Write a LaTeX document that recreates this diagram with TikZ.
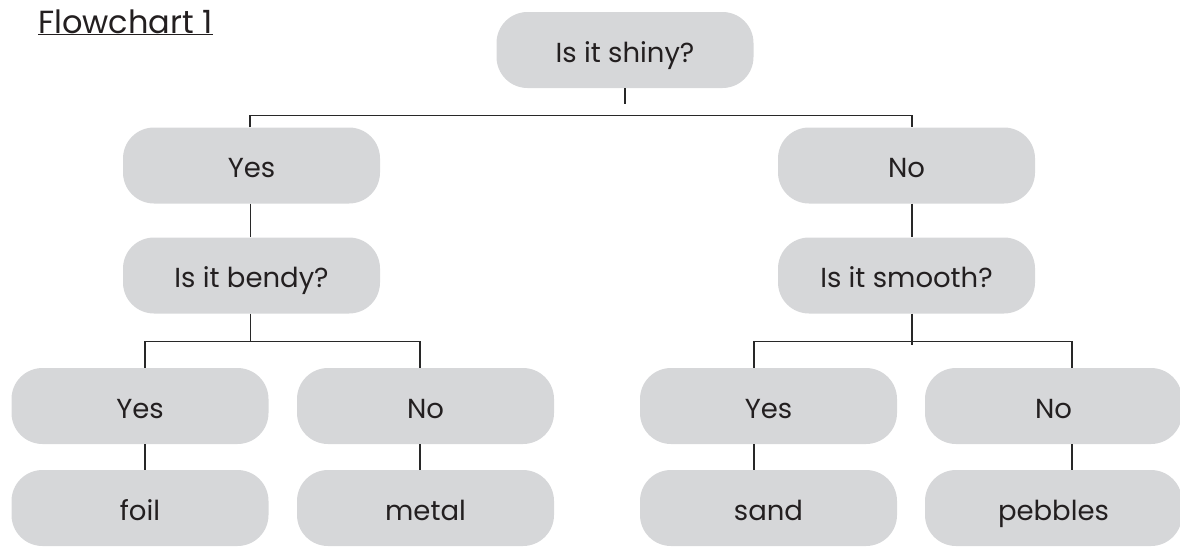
\documentclass[tikz,border=0pt]{standalone}
\usepackage{fontspec}
\setmainfont{Poppins}
\usetikzlibrary{calc}
\definecolor{boxgray}{RGB}{214,215,217}
\definecolor{ink}{RGB}{35,31,32}
\definecolor{linegray}{RGB}{40,40,40}
\tikzset{
  box/.style={fill=boxgray, rounded corners=31pt, minimum width=257pt, minimum height=76pt, inner sep=0pt, text=ink, text height=24pt, text depth=0pt, font=\fontsize{27.5}{30}\selectfont},
  conn/.style={draw=linegray, line width=1.1pt}
}
\begin{document}
\begin{tikzpicture}[x=1pt,y=-1pt]
\useasboundingbox (0,0) rectangle (1180,546);
\node[anchor=base west, text=ink, font=\fontsize{32}{36}\selectfont, inner sep=0pt] (title) at (38,33) {\underline{Flowchart 1}};
\node[box] (shiny) at (625,50) {Is it shiny?};
\node[box] (yes) at (251.5,165.5) {Yes};
\node[box] (no) at (906.5,165.5) {No};
\node[box] (bendy) at (251.5,275.5) {Is it bendy?};
\node[box] (smooth) at (906.5,275.5) {Is it smooth?};
\node[box] (ly) at (140,406) {Yes};
\node[box] (ln) at (425.5,406) {No};
\node[box] (ry) at (768.5,406) {Yes};
\node[box] (rn) at (1053.5,406) {No};
\node[box] (foil) at (140,508) {foil};
\node[box] (metal) at (425.5,508) {metal};
\node[box] (sand) at (768.5,508) {sand};
\node[box] (pebbles) at (1053.5,508) {pebbles};
% connectors
\draw[conn] (shiny.south) -- ++(0,16);
\draw[conn] ([xshift=-1.5pt]yes.north) -- ++(0,-12) -| ([xshift=5.5pt]no.north);
\draw[conn] ([xshift=-1pt]yes.south) -- ([xshift=-1pt]bendy.north);
\draw[conn] ([xshift=5.5pt]no.south) -- ([xshift=5.5pt]smooth.north);
\draw[conn] ([xshift=-1pt]bendy.south) -- ++(0,28);
\draw[conn] ([xshift=5pt]ly.north) -- ++(0,-26) -| ([xshift=-5.5pt]ln.north);
\draw[conn] ([xshift=5.5pt]smooth.south) -- ++(0,31);
\draw[conn] ([xshift=-14.5pt]ry.north) -- ++(0,-26) -| ([xshift=18.5pt]rn.north);
\draw[conn] ([xshift=5pt]ly.south) -- ([xshift=5pt]foil.north);
\draw[conn] ([xshift=-5.5pt]ln.south) -- ([xshift=-5.5pt]metal.north);
\draw[conn] ([xshift=-14.5pt]ry.south) -- ([xshift=-14.5pt]sand.north);
\draw[conn] ([xshift=18.5pt]rn.south) -- ([xshift=18.5pt]pebbles.north);
\end{tikzpicture}
\end{document}
